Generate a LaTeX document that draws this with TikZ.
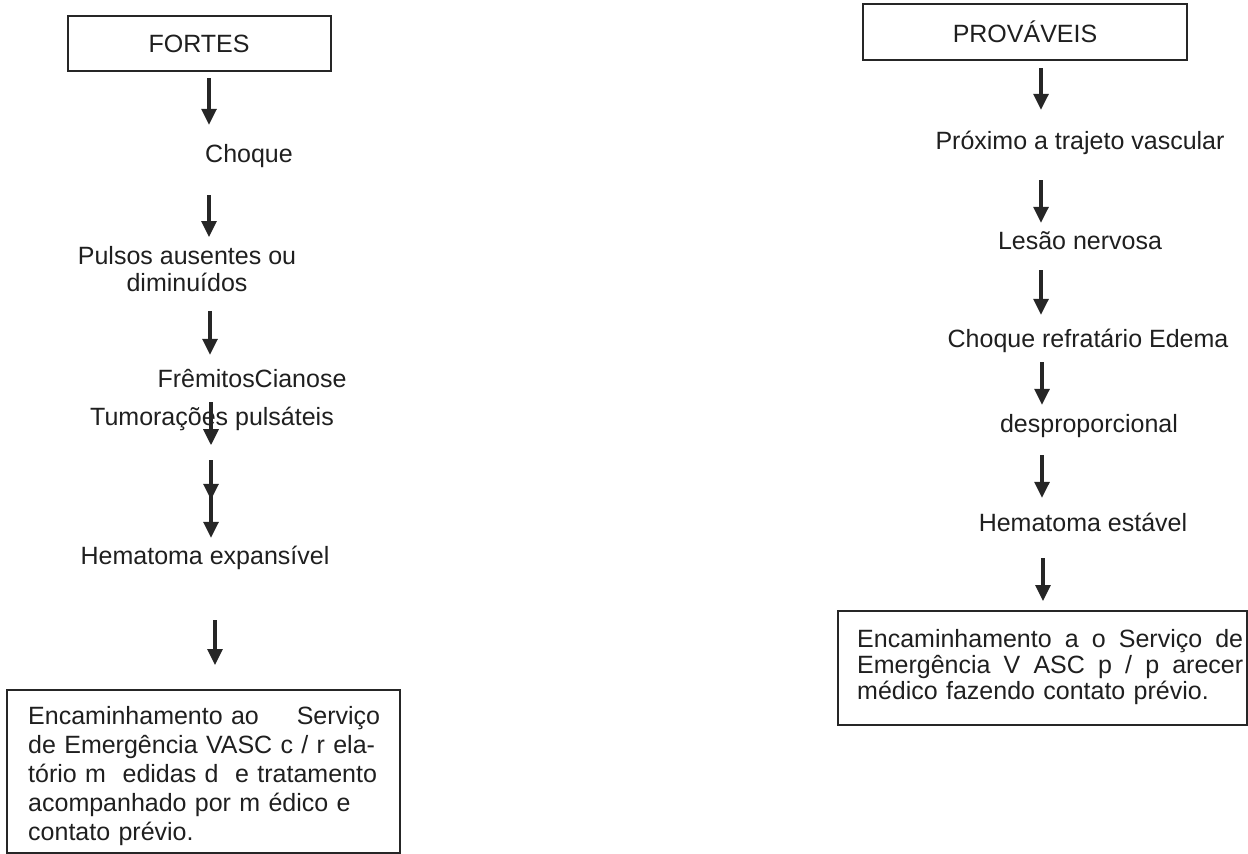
\documentclass[tikz,border=0pt]{standalone}
\usepackage{fontspec}
\setmainfont{Liberation Sans}
\usetikzlibrary{arrows.meta}
\begin{document}
\begin{tikzpicture}[x=1pt,y=-1pt,
  every node/.style={inner sep=0pt, text=black!88},
  txt/.style={font=\fontsize{25}{27}\selectfont, text height=18pt, text depth=5pt},
  mtxt/.style={font=\fontsize{25}{27}\selectfont, align=center},
  frame/.style={draw=black!85, line width=2pt},
  arr/.style={draw=black!85, line width=3.2pt, -{Triangle[length=16pt,width=15pt]}}]
\useasboundingbox (0,0) rectangle (1248,854);

% ---------- left column: FORTES ----------
\coordinate (colL) at (209,0);
\node[frame, minimum width=263pt, minimum height=55pt, font=\fontsize{25}{27}\selectfont] (fortes) at (199,43.5) {FORTES};
\node[txt] (choque) at (249,155.5) {Choque};
\node[mtxt, anchor=north] (pulsos) at (187,246) {Pulsos ausentes ou\\diminuídos};
\node[txt] (frem) at (252,380.5) {FrêmitosCianose};
\node[txt] (tumor) at (212,418.5) {Tumorações pulsáteis};
\node[txt] (hemexp) at (205,557.5) {Hematoma expansível};
\node[frame, minimum width=393pt, minimum height=163pt] (encL) at (203.5,771.5) {};
\node[anchor=north west, align=left, text width=352pt,
      font=\fontsize{25}{29}\selectfont] (encLtxt) at (28,706)
  {Encaminhamento ao\hfill Serviço\\
   de Emergência VASC c / r ela-\\
   tório m \ edidas d \ e tratamento\\
   acompanhado por m édico e\\
   contato prévio.};

\draw[arr, shorten <=6pt, shorten >=19pt] (fortes.south -| colL) -- (choque.north -| colL);
\draw[arr, shorten <=28pt, shorten >=9pt] (choque.south -| colL) -- (pulsos.north -| colL);
\draw[arr, shorten <=19pt, shorten >=14pt] ([xshift=1pt]pulsos.south -| colL) -- ([xshift=1pt]frem.north -| colL);
\draw[arr, shorten <=10pt, shorten >=-15pt] ([xshift=2pt]frem.south -| colL) -- ([xshift=2pt]tumor.south -| colL);
\draw[arr, shorten <=30pt, shorten >=46pt] ([xshift=2pt]tumor.south -| colL) -- ([xshift=2pt]hemexp.north -| colL);
\draw[arr, shorten <=40pt, shorten >=8pt] ([xshift=2pt]tumor.south -| colL) -- ([xshift=2pt]hemexp.north -| colL);
\draw[arr, shorten <=51pt, shorten >=24pt] ([xshift=6pt]hemexp.south -| colL) -- ([xshift=6pt]encL.north -| colL);

% ---------- right column: PROVÁVEIS ----------
\coordinate (colR) at (1041,0);
\node[frame, minimum width=324pt, minimum height=56pt, font=\fontsize{25}{27}\selectfont] (prov) at (1025,32) {PROVÁVEIS};
\node[txt] (prox) at (1080,142.5) {Próximo a trajeto vascular};
\node[txt] (lesao) at (1080,242.5) {Lesão nervosa};
\node[txt] (chref) at (1088,340.5) {Choque refratário Edema};
\node[txt] (desp) at (1089,425.5) {desproporcional};
\node[txt] (hemest) at (1083,524.5) {Hematoma estável};
\node[frame, minimum width=409pt, minimum height=114pt] (encR) at (1042.5,668) {};
\node[anchor=north west, align=left, text width=386pt,
      font=\fontsize{25}{26}\selectfont] (encRtxt) at (857,629)
  {\makebox[386pt][l]{Encaminhamento\hfill a\hfill o\hfill Serviço\hfill de}\\
   \makebox[386pt][l]{Emergência\hfill V\hfill ASC\hfill p\hfill /\hfill p\hfill arecer}\\
   médico fazendo contato prévio.};

\draw[arr, shorten <=7pt, shorten >=21pt] (prov.south -| colR) -- (prox.north -| colR);
\draw[arr, shorten <=26pt, shorten >=8pt] (prox.south -| colR) -- (lesao.north -| colR);
\draw[arr, shorten <=16pt, shorten >=14pt] (lesao.south -| colR) -- (chref.north -| colR);
\draw[arr, shorten <=10pt, shorten >=9pt] ([xshift=1pt]chref.south -| colR) -- ([xshift=1pt]desp.north -| colR);
\draw[arr, shorten <=18pt, shorten >=15pt] ([xshift=1pt]desp.south -| colR) -- ([xshift=1pt]hemest.north -| colR);
\draw[arr, shorten <=22pt, shorten >=9pt] ([xshift=2pt]hemest.south -| colR) -- ([xshift=2pt]encR.north -| colR);
\end{tikzpicture}
\end{document}
